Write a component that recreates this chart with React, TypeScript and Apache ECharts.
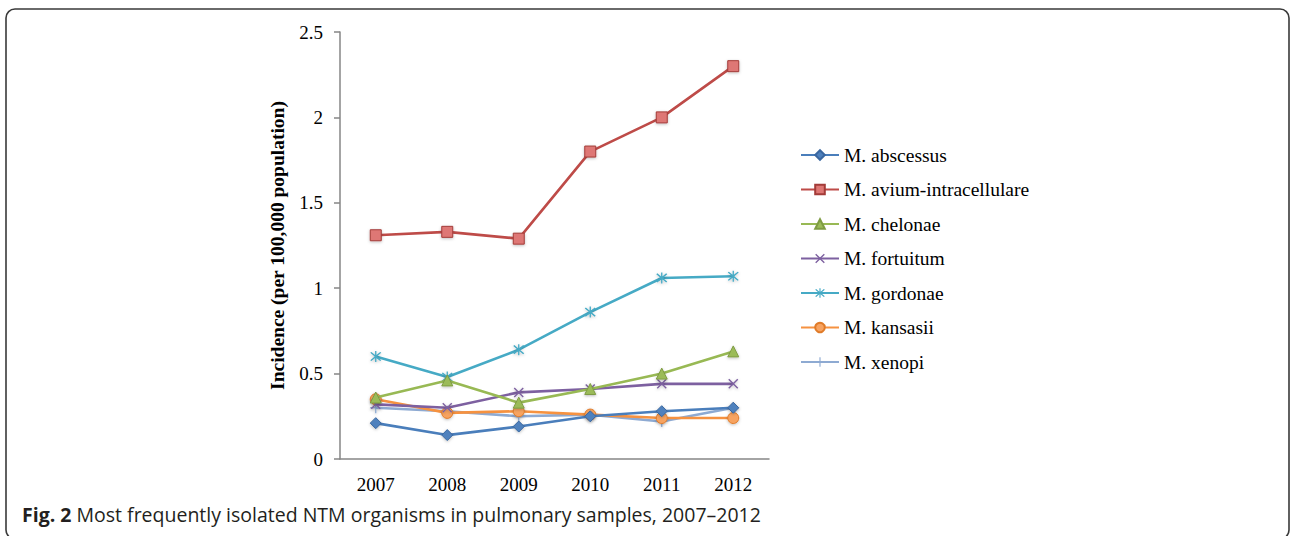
import React, { useEffect, useRef } from "react";
import * as echarts from "echarts";

const years = ["2007", "2008", "2009", "2010", "2011", "2012"];
const seriesNames = [
  "M. abscessus",
  "M. avium-intracellulare",
  "M. chelonae",
  "M. fortuitum",
  "M. gordonae",
  "M. kansasii",
  "M. xenopi",
];
const abscessus = [0.21, 0.14, 0.19, 0.25, 0.28, 0.3];
const avium = [1.31, 1.33, 1.29, 1.8, 2.0, 2.3];
const chelonae = [0.36, 0.46, 0.33, 0.41, 0.5, 0.63];
const fortuitum = [0.32, 0.3, 0.39, 0.41, 0.44, 0.44];
const gordonae = [0.6, 0.48, 0.64, 0.86, 1.06, 1.07];
const kansasii = [0.35, 0.27, 0.28, 0.26, 0.24, 0.24];
const xenopi = [0.3, 0.28, 0.25, 0.26, 0.22, 0.3];
const yTicks = { min: 0, max: 2.5, interval: 0.5 };
const yAxisTitle = "Incidence (per 100,000 population)";
const captionBold = "Fig. 2";
const captionText = " Most frequently isolated NTM organisms in pulmonary samples, 2007–2012";

const X_PATH =
  "path://M0,1 L1,0 L5,4 L9,0 L10,1 L6,5 L10,9 L9,10 L5,6 L1,10 L0,9 L4,5 Z";
const STAR_PATH =
  "path://M0,1 L1,0 L5,4 L9,0 L10,1 L6,5 L10,9 L9,10 L5,6 L1,10 L0,9 L4,5 Z M4.4,-1 H5.6 V11 H4.4 Z";
const PLUS_PATH = "path://M4.4,0 H5.6 V4.4 H10 V5.6 H5.6 V10 H4.4 V5.6 H0 V4.4 H4.4 Z";

const SERIF = "'Liberation Serif', 'Times New Roman', serif";

export default function App() {
  const ref = useRef<HTMLDivElement>(null);
  useEffect(() => {
    if (!ref.current) return;
    const chart = echarts.init(ref.current, undefined, { renderer: "svg" });
    const values = [abscessus, avium, chelonae, fortuitum, gordonae, kansasii, xenopi];
    const styles = [
      { line: "#4A7EBB", fill: "#4F81BD", border: "#3A67A0", symbol: "diamond", size: 11 },
      { line: "#BE4B48", fill: "#DE7774", border: "#A33B38", symbol: "rect", size: 11 },
      { line: "#98B954", fill: "#9BBB59", border: "#7F9C43", symbol: "triangle", size: 11 },
      { line: "#7D60A0", fill: "#7D60A0", border: "#7D60A0", symbol: X_PATH, size: 10 },
      { line: "#46AAC5", fill: "#46AAC5", border: "#46AAC5", symbol: STAR_PATH, size: 11 },
      { line: "#F69240", fill: "#F7A361", border: "#E07B28", symbol: "circle", size: 11 },
      { line: "#8EAAD2", fill: "#8EAAD2", border: "#8EAAD2", symbol: PLUS_PATH, size: 11 },
    ];
    const series = seriesNames.map((name, i) => ({
      name,
      type: "line",
      data: values[i],
      symbol: styles[i].symbol,
      symbolSize: styles[i].size,
      lineStyle: { color: styles[i].line, width: 2.6 },
      itemStyle: {
        color: styles[i].fill,
        borderColor: styles[i].border,
        borderWidth: i === 3 || i === 4 || i === 6 ? 0 : 1,
        shadowBlur: 3,
        shadowColor: "rgba(0,0,0,0.25)",
        shadowOffsetY: 1,
      },
      z: 10 - i,
    }));
    chart.setOption({
      animation: false,
      backgroundColor: "#ffffff",
      grid: { left: 340, right: 521, top: 32, bottom: 77 },
      xAxis: {
        type: "category",
        data: years,
        boundaryGap: true,
        axisLine: { lineStyle: { color: "#868686", width: 1.5 } },
        axisTick: { length: 6, lineStyle: { color: "#868686", width: 1.5 } },
        axisLabel: { color: "#000", fontFamily: SERIF, fontSize: 19, margin: 16 },
      },
      yAxis: {
        type: "value",
        min: yTicks.min,
        max: yTicks.max,
        interval: yTicks.interval,
        name: yAxisTitle,
        nameLocation: "middle",
        nameGap: 53,
        nameTextStyle: { color: "#000", fontFamily: SERIF, fontSize: 19.5, fontWeight: "bold" },
        splitLine: { show: false },
        axisLine: { show: true, lineStyle: { color: "#868686", width: 1.5 } },
        axisTick: { show: true, length: 6, lineStyle: { color: "#868686", width: 1.5 } },
        axisLabel: { color: "#000", fontFamily: SERIF, fontSize: 19, margin: 17 },
      },
      legend: {
        orient: "vertical",
        left: 800,
        top: 145,
        padding: 0,
        itemWidth: 38,
        itemHeight: 12,
        itemGap: 14.5,
        textStyle: { color: "#000", fontFamily: SERIF, fontSize: 19.5 },
        data: seriesNames,
      },
      graphic: [
        {
          type: "rect",
          shape: { x: 6, y: 9, width: 1283, height: 530, r: 9 },
          style: { fill: "none", stroke: "#3a3a3a", lineWidth: 1.6 },
          silent: true,
        },
        {
          type: "text",
          x: 22,
          y: 514,
          style: {
            text: "{b|" + captionBold + "}{n|" + captionText + "}",
            verticalAlign: "middle",
            rich: {
              b: { fontFamily: "'Open Sans', sans-serif", fontWeight: "bold", fontSize: 19.5, fill: "#231f20" },
              n: { fontFamily: "'Open Sans', sans-serif", fontSize: 19.5, fill: "#231f20" },
            },
          },
        },
      ],
      series,
    });
    return () => chart.dispose();
  }, []);
  return (
    <div
      ref={ref}
      style={{ position: "fixed", left: 0, top: 0, width: 1290, height: 536 }}
    />
  );
}
